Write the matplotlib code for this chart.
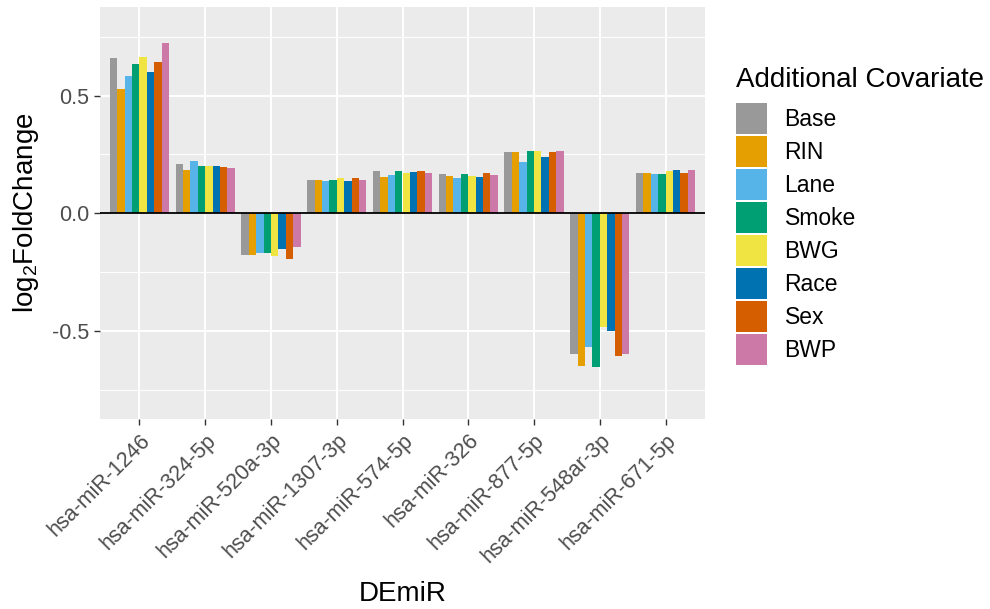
import matplotlib
matplotlib.use("Agg")
import matplotlib.pyplot as plt
import numpy as np

plt.rcParams['font.family'] = ['Liberation Sans', 'DejaVu Sans']
plt.rcParams['mathtext.default'] = 'regular'

mirnas = ['hsa-miR-1246', 'hsa-miR-324-5p', 'hsa-miR-520a-3p', 'hsa-miR-1307-3p',
          'hsa-miR-574-5p', 'hsa-miR-326', 'hsa-miR-877-5p', 'hsa-miR-548ar-3p',
          'hsa-miR-671-5p']
covariates = ['Base', 'RIN', 'Lane', 'Smoke', 'BWG', 'Race', 'Sex', 'BWP']
colors = ['#999999', '#E69F00', '#56B4E9', '#009E73', '#F0E442', '#0072B2', '#D55E00', '#CC79A7']

# log2 fold change per covariate, one value per miRNA (same order as mirnas)
base = [0.660, 0.208, -0.178, 0.141, 0.178, 0.167, 0.259, -0.597, 0.173]
rin = [0.526, 0.184, -0.178, 0.141, 0.154, 0.160, 0.259, -0.647, 0.173]
lane = [0.581, 0.221, -0.167, 0.136, 0.161, 0.149, 0.216, -0.567, 0.167]
smoke = [0.632, 0.202, -0.170, 0.141, 0.178, 0.167, 0.264, -0.652, 0.167]
bwg = [0.662, 0.202, -0.181, 0.149, 0.173, 0.160, 0.264, -0.483, 0.178]
race = [0.601, 0.203, -0.150, 0.136, 0.174, 0.154, 0.241, -0.499, 0.185]
sex = [0.643, 0.197, -0.192, 0.149, 0.178, 0.173, 0.259, -0.604, 0.173]
bwp = [0.723, 0.191, -0.141, 0.141, 0.173, 0.161, 0.264, -0.597, 0.184]
series = [base, rin, lane, smoke, bwg, race, sex, bwp]

fig = plt.figure(figsize=(9.9, 6.09), dpi=100)
ax = fig.add_axes([100/990, 1-419/609, 605/990, 412/609])
ax.set_facecolor('#EBEBEB')

x = np.arange(1, len(mirnas) + 1)
bw = 0.9 / len(covariates)
handles = []
for i, (name, vals, c) in enumerate(zip(covariates, series, colors)):
    h = ax.bar(x - 0.45 + bw * (i + 0.5), vals, width=bw, color=c, label=name, zorder=3)
    handles.append(h)

ax.axhline(0, color='black', lw=1.3, zorder=4)

ax.set_xlim(0.4, 9.6)
ax.set_ylim(-0.873, 0.876)
ax.set_yticks([-0.5, 0.0, 0.5])
ax.set_yticklabels(['-0.5', '0.0', '0.5'])
ax.set_yticks([-0.75, -0.25, 0.25, 0.75], minor=True)
ax.set_xticks(x)
ax.set_xticklabels(mirnas, rotation=45, ha='right', va='top', rotation_mode='anchor')

ax.grid(True, which='major', color='white', lw=1.4, zorder=0)
ax.grid(True, which='minor', axis='y', color='white', lw=0.7, zorder=0)
ax.set_axisbelow(True)
for s in ax.spines.values():
    s.set_visible(False)
ax.tick_params(axis='both', which='major', colors='#333333', length=4, width=1,
               labelsize=15.5, labelcolor='#4D4D4D')
ax.tick_params(axis='x', pad=4)
ax.tick_params(which='minor', length=0)

ax.set_xlabel('DEmiR', fontsize=20, labelpad=10)
ax.set_ylabel(r'$\mathregular{log_2}$FoldChange', fontsize=20, labelpad=8)

leg = fig.legend(handles=handles, labels=covariates, loc='upper left',
                 bbox_to_anchor=(725/990, 1-56/609), frameon=False, borderpad=0,
                 title='Additional Covariate', title_fontsize=20, fontsize=16.5,
                 handlelength=1.35, handleheight=1.7, labelspacing=0.09,
                 handletextpad=0.75, alignment='left')
leg._legend_box.sep = 7

fig.savefig('out.png', dpi=100)
